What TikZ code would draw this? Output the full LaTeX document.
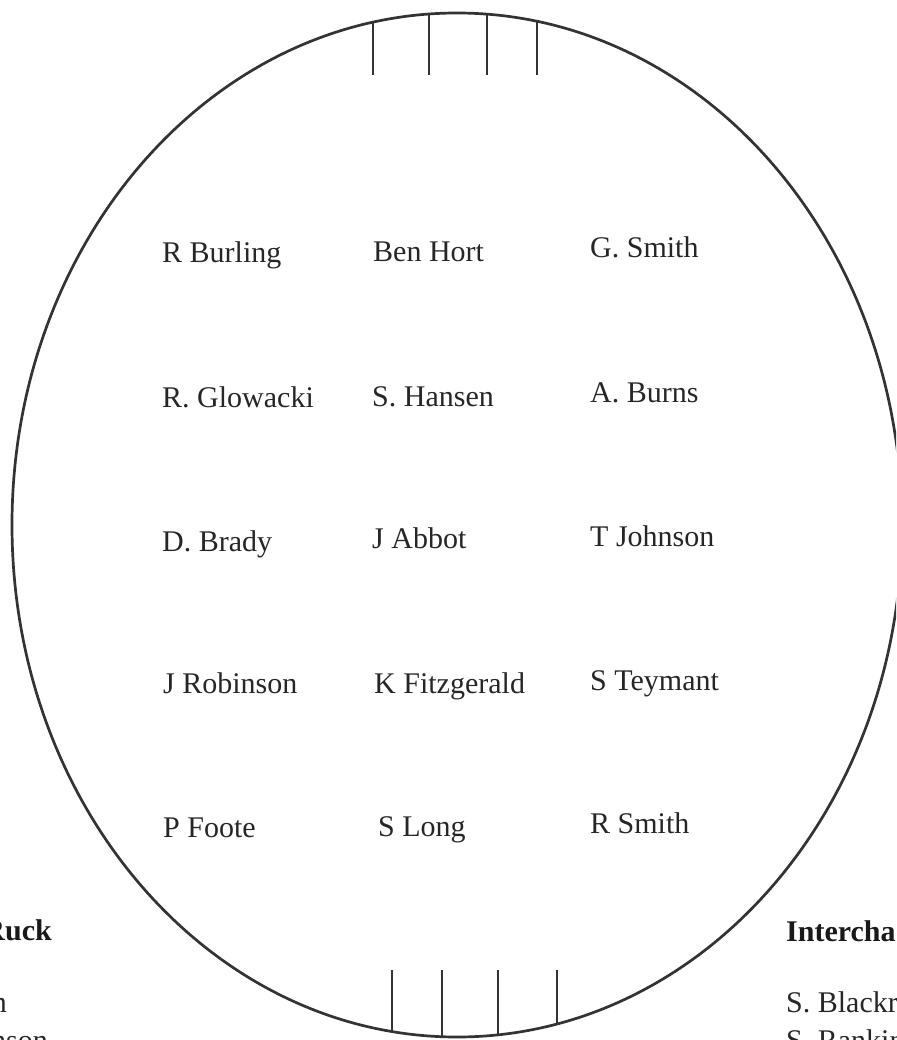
\documentclass[tikz,border=0pt]{standalone}
\usepackage{fontspec}
\setmainfont{Liberation Serif}
\begin{document}
\begin{tikzpicture}[x=1pt,y=-1pt,
  player/.style={anchor=base west,inner sep=0pt,text=black!85,font=\fontsize{30}{36}\selectfont},
  playerr/.style={anchor=base east,inner sep=0pt,text=black!85,font=\fontsize{30}{36}\selectfont},
  head/.style={inner sep=0pt,text=black!90,font=\fontsize{30}{36}\selectfont\bfseries},
  oval/.style={draw=black!80,line width=2.7pt},
  tick/.style={draw=black!80,line width=2.7pt}]
\useasboundingbox (0,0) rectangle (896,1040);
\clip (0,0) rectangle (896,1040);
% field
\draw[oval] (457,525) ellipse [x radius=445pt, y radius=512pt];
\begin{scope}
  \clip (457,525) ellipse [x radius=445pt, y radius=512pt];
  \foreach \x in {373,429,487,537} \draw[tick] (\x,75) -- (\x,0);
  \foreach \x in {392,442,498,557} \draw[tick] (\x,970) -- (\x,1045);
\end{scope}
% players
\node[player] (a1) at (162,263) {R Burling};
\node[player] (b1) at (373,262) {Ben Hort};
\node[player] (c1) at (590,258) {G. Smith};
\node[player] (a2) at (162,407) {R. Glowacki};
\node[player] (b2) at (372,406) {S. Hansen};
\node[player] (c2) at (590,402) {A. Burns};
\node[player] (a3) at (162,551) {D. Brady};
\node[player] (b3) at (372,548) {J Abbot};
\node[player] (c3) at (590,546) {T Johnson};
\node[player] (a4) at (163,693) {J Robinson};
\node[player] (b4) at (374,693) {K Fitzgerald};
\node[player] (c4) at (590,690) {S Teymant};
\node[player] (a5) at (163,837) {P Foote};
\node[player] (b5) at (378,836) {S Long};
\node[player] (c5) at (590,833) {R Smith};
% side lists (cut by the frame, as in the reference)
\node[head,anchor=base east] (ruck) at (52,940) {Ruck};
\node[playerr] (l1) at (7,1012) {n};
\node[playerr] (l2) at (48,1050) {nson};
\node[head,anchor=base west] (inter) at (786,941) {Intercha};
\node[player] (r1) at (786,1012) {S. Blackr};
\node[player] (r2) at (786,1050) {S. Rankin};
\end{tikzpicture}
\end{document}
